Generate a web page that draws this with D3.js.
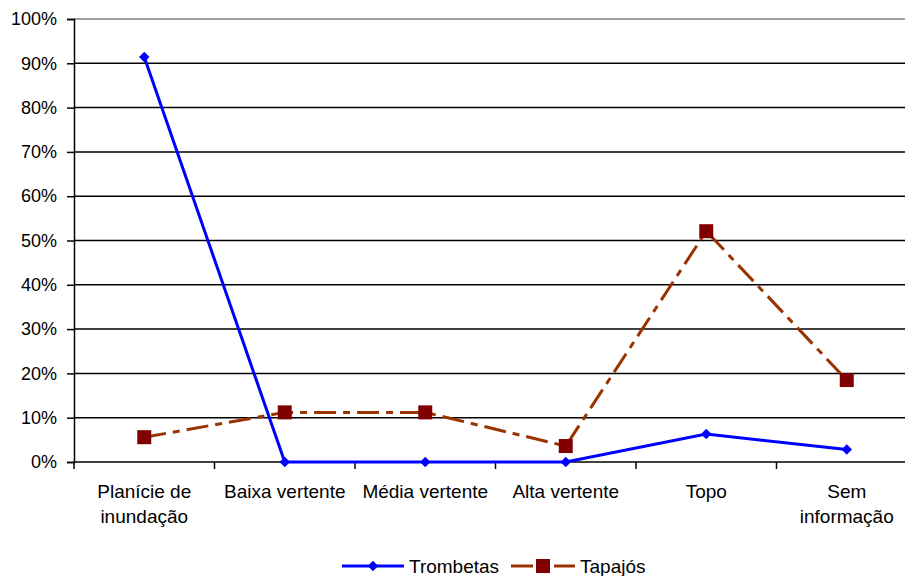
<!DOCTYPE html>
<html>
<head>
<meta charset="utf-8">
<script src="https://cdn.jsdelivr.net/npm/d3@7"></script>
<style>
  body { margin: 0; background: #fff; }
  text { font-family: "Liberation Sans", Arial, sans-serif; fill: #000; }
</style>
</head>
<body>
<div id="chart"></div>
<script>
// Data
var categories = ["Planície de\ninundação", "Baixa vertente", "Média vertente", "Alta vertente", "Topo", "Sem\ninformação"];
var trombetas = [0.914, 0, 0, 0, 0.063, 0.028];
var tapajos = [0.056, 0.112, 0.112, 0.036, 0.521, 0.185];
var yTicks = [0, 0.1, 0.2, 0.3, 0.4, 0.5, 0.6, 0.7, 0.8, 0.9, 1];

var w = 905, h = 576;
var margin = {top: 19, right: -12, bottom: 114, left: 74};

var svg = d3.select("#chart").append("svg")
    .attr("width", w)
    .attr("height", h);

var x = d3.scaleBand()
    .domain(d3.range(categories.length))
    .range([margin.left, w - margin.right]);

var y = d3.scaleLinear()
    .domain([0, 1])
    .range([h - margin.bottom, margin.top]);

//Gridlines
svg.append("g")
    .selectAll("line")
    .data(yTicks)
    .join("line")
    .attr("x1", margin.left)
    .attr("x2", w - margin.right)
    .attr("y1", d => y(d))
    .attr("y2", d => y(d))
    .attr("stroke", d => d === 1 ? "#808080" : "#000")
    .attr("stroke-width", 1.5);

//Axes
var yAxis = d3.axisLeft(y)
    .tickValues(yTicks)
    .tickFormat(d3.format(".0%"))
    .tickSize(7)
    .tickPadding(10);

var gy = svg.append("g")
    .attr("transform", "translate(" + margin.left + ",0)")
    .call(yAxis);
gy.select(".domain").attr("stroke", "#000").attr("stroke-width", 1.5);
gy.selectAll(".tick line").attr("stroke", "#000").attr("stroke-width", 1.5);
gy.selectAll("text").style("font-size", "18px");

var xTickPos = d3.range(categories.length + 1).map(i => margin.left + i * x.bandwidth());
svg.append("g")
    .selectAll("line")
    .data(xTickPos)
    .join("line")
    .attr("x1", d => d).attr("x2", d => d)
    .attr("y1", y(0)).attr("y2", y(0) + 7)
    .attr("stroke", "#000")
    .attr("stroke-width", 1.5);

svg.append("g")
    .selectAll("text")
    .data(categories)
    .join("text")
    .attr("text-anchor", "middle")
    .style("font-size", "19px")
    .each(function(d, i) {
        var lines = d.split("\n");
        d3.select(this).selectAll("tspan")
            .data(lines)
            .join("tspan")
            .attr("x", x(i) + x.bandwidth() / 2)
            .attr("y", (l, j) => y(0) + 36 + j * 25)
            .text(l => l);
    });

//Lines
var line = d3.line()
    .x((d, i) => x(i) + x.bandwidth() / 2)
    .y(d => y(d));

svg.append("path")
    .datum(tapajos)
    .attr("fill", "none")
    .attr("stroke", "#993300")
    .attr("stroke-width", 3)
    .attr("stroke-dasharray", "22,7,7,7")
    .attr("d", line);

svg.append("path")
    .datum(trombetas)
    .attr("fill", "none")
    .attr("stroke", "#0000ff")
    .attr("stroke-width", 3)
    .attr("d", line);

//Markers
var diamond = d3.symbol().type(d3.symbolDiamond2).size(70);

svg.append("g")
    .selectAll("path")
    .data(trombetas)
    .join("path")
    .attr("transform", (d, i) => "translate(" + (x(i) + x.bandwidth() / 2) + "," + y(d) + ")")
    .attr("d", diamond)
    .attr("fill", "#0000ff");

svg.append("g")
    .selectAll("rect")
    .data(tapajos)
    .join("rect")
    .attr("x", (d, i) => x(i) + x.bandwidth() / 2 - 7)
    .attr("y", d => y(d) - 7)
    .attr("width", 14)
    .attr("height", 14)
    .attr("fill", "#800000");

//Legend
var legend = svg.append("g").attr("transform", "translate(0,566)");

legend.append("line")
    .attr("x1", 342).attr("x2", 404)
    .attr("stroke", "#0000ff").attr("stroke-width", 3);
legend.append("path")
    .attr("transform", "translate(373,0)")
    .attr("d", diamond)
    .attr("fill", "#0000ff");
legend.append("text")
    .attr("x", 409).attr("y", 7)
    .style("font-size", "19px")
    .text("Trombetas");

legend.append("line")
    .attr("x1", 511).attr("x2", 575)
    .attr("stroke", "#993300").attr("stroke-width", 3)
    .attr("stroke-dasharray", "22,7,7,7");
legend.append("rect")
    .attr("x", 536).attr("y", -7)
    .attr("width", 14).attr("height", 14)
    .attr("fill", "#800000");
legend.append("text")
    .attr("x", 580).attr("y", 7)
    .style("font-size", "19px")
    .text("Tapajós");
</script>
</body>
</html>
